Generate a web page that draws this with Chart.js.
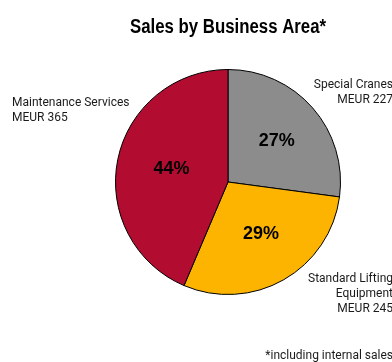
<!DOCTYPE html>
<html>
<head>
<meta charset="utf-8">
<script src="https://cdn.jsdelivr.net/npm/chart.js@4.4.0/dist/chart.umd.min.js"></script>
<style>
  html, body { margin: 0; padding: 0; background: #fff; }
  #wrap { width: 392px; height: 362px; }
</style>
</head>
<body>
<div id="wrap"><canvas id="salesChart"></canvas></div>
<script>
// sales per business area, MEUR
const areas = ["Special Cranes", "Standard Lifting Equipment", "Maintenance Services"];
const areaLines = [["Special Cranes"], ["Standard Lifting", "Equipment"], ["Maintenance Services"]];
const sales = [227, 245, 365];
const sliceColors = ["#8c8c8c", "#fdb400", "#b20d30"];
const chartTitle = "Sales by Business Area*";
const footnote = "*including internal sales";

// where the outside labels go: x (from left or right edge), first baseline, alignment
const labelSpots = [
  { x: -1, y: 88, align: "right" },
  { x: -1, y: 282, align: "right" },
  { x: 12, y: 106, align: "left" }
];

const total = sales.reduce((a, b) => a + b, 0);
const shares = sales.map(v => Math.round(v / total * 100));

const textFont = "12px Roboto, 'Liberation Sans', sans-serif";

const sliceLabels = {
  id: "sliceLabels",
  afterDatasetsDraw(chart) {
    const ctx = chart.ctx;
    const arcs = chart.getDatasetMeta(0).data;
    ctx.save();

    // title, squeezed horizontally for a condensed look
    ctx.save();
    ctx.font = "bold 20px 'Liberation Sans', Arial, sans-serif";
    ctx.fillStyle = "#000";
    ctx.textAlign = "center";
    ctx.textBaseline = "alphabetic";
    const cx = (chart.chartArea.left + chart.chartArea.right) / 2;
    ctx.translate(cx, 33);
    ctx.scale(0.84, 1);
    ctx.fillText(chartTitle, 0, 0);
    ctx.restore();

    // percentages inside each slice
    ctx.font = "bold 18px 'Liberation Sans', Arial, sans-serif";
    ctx.fillStyle = "#000";
    ctx.textAlign = "center";
    ctx.textBaseline = "middle";
    arcs.forEach((arc, i) => {
      const mid = (arc.startAngle + arc.endAngle) / 2;
      const r = arc.outerRadius * 0.54;
      ctx.fillText(shares[i] + "%", arc.x + Math.cos(mid) * r + 3, arc.y + Math.sin(mid) * r - 1);
    });

    // area names + MEUR values outside the pie
    ctx.font = textFont;
    ctx.fillStyle = "#1a1a1a";
    ctx.textBaseline = "alphabetic";
    areaLines.forEach((lines, i) => {
      const spot = labelSpots[i];
      const x = spot.align === "right" ? chart.width + 1 + spot.x + 1 : spot.x;
      const all = lines.concat(["MEUR " + sales[i]]);
      ctx.textAlign = spot.align;
      all.forEach((t, j) => ctx.fillText(t, x, spot.y + j * 15));
    });

    ctx.textAlign = "right";
    ctx.fillText(footnote, chart.width + 1, 359);
    ctx.restore();
  }
};

new Chart(document.getElementById("salesChart"), {
  type: "pie",
  data: {
    labels: areas,
    datasets: [{
      data: sales,
      backgroundColor: sliceColors,
      borderColor: "#000",
      borderWidth: 1
    }]
  },
  options: {
    responsive: true,
    maintainAspectRatio: false,
    animation: false,
    layout: { padding: { left: 115, right: 51, top: 69, bottom: 67 } },
    plugins: {
      legend: { display: false },
      tooltip: { enabled: false },
      title: { display: false }
    }
  },
  plugins: [sliceLabels]
});
</script>
</body>
</html>
